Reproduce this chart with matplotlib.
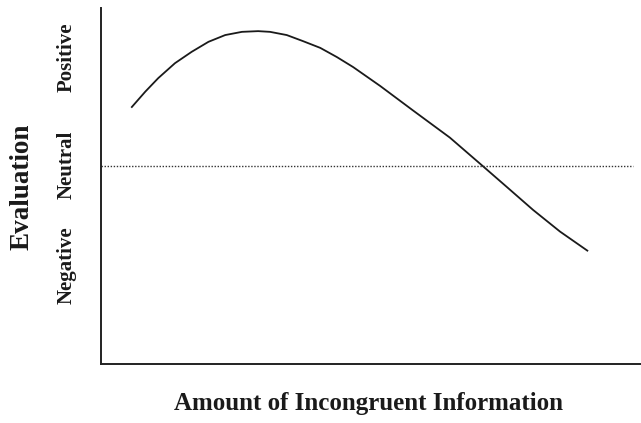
import numpy as np
import matplotlib
matplotlib.use("Agg")
from matplotlib import pyplot as plt

# curve (x = amount, y = evaluation, both 0-100)
amount = [5.6, 8.2, 10.6, 13.7, 16.8, 19.9, 23.0, 26.1, 29.1, 31.3, 34.4,
          37.4, 40.6, 43.7, 46.7, 51.7, 57.8, 64.6, 70.7, 75.4, 80.0, 85.0,
          90.2]
evaluation = [72.0, 76.5, 80.3, 84.5, 87.7, 90.5, 92.4, 93.3, 93.5, 93.3,
              92.4, 90.7, 88.8, 86.2, 83.4, 78.1, 71.2, 63.6, 55.6, 49.4,
              43.3, 37.2, 31.7]
neutral_level = 55.6
neutral_span = [0, 98.5]

level_names = ['Positive', 'Neutral', 'Negative']
level_pos = [57, 165, 265]   # pixel rows of the level labels
W, H = 641, 423

plt.rcParams['font.family'] = ['Liberation Serif', 'DejaVu Serif']
plt.rcParams['font.weight'] = 'bold'

fig = plt.figure(figsize=(W / 100, H / 100), dpi=100)
ax = fig.add_axes([101 / W, (H - 364) / H, (W - 101) / W, 356 / H])

ax.plot(amount, evaluation, color='#1a1a1a', lw=1.3, solid_capstyle='butt',
        solid_joinstyle='round')
ax.plot(neutral_span, [neutral_level] * 2, color='#333333', lw=1.0,
        linestyle=(0, (1, 1.2)))

ax.set_xlim(0, 100)
ax.set_ylim(0, 100)
ax.set_xticks([])
ax.set_yticks([])
for side in ['top', 'right']:
    ax.spines[side].set_visible(False)
for side in ['left', 'bottom']:
    ax.spines[side].set_linewidth(1.4)
    ax.spines[side].set_color('#222222')

for name, py in zip(level_names, level_pos):
    fig.text(67 / W, 1 - py / H, name, rotation=90, ha='center', va='center',
             fontsize=15, fontweight='bold', color='#1a1a1a')

fig.text(22 / W, 1 - 187 / H, 'Evaluation', rotation=90, ha='center',
         va='center', fontsize=19.5, fontweight='bold', color='#1a1a1a')
fig.text(368 / W, 1 - 403 / H, 'Amount of Incongruent Information',
         ha='center', va='center', fontsize=18, fontweight='bold',
         color='#1a1a1a')

fig.savefig('out.png', dpi=100)
